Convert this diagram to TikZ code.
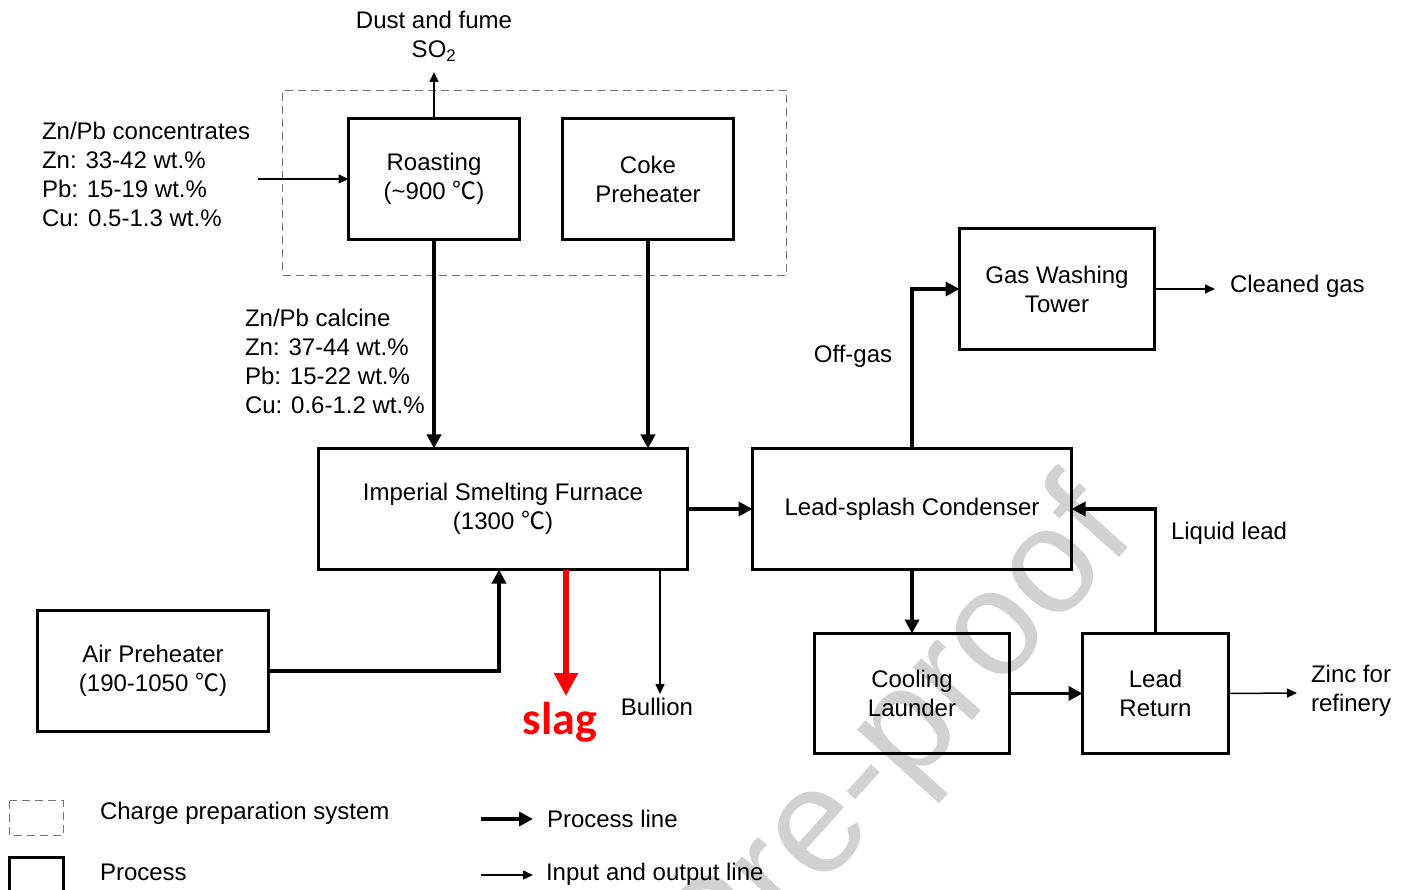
\documentclass[tikz,border=0pt]{standalone}
\usepackage{fontspec}
\setmainfont{Liberation Sans}
\newfontfamily\cjkfont{Noto Sans CJK SC}
\newfontfamily\slagfont{Carlito}
\usetikzlibrary{arrows.meta}
\newcommand{\degC}{{\cjkfont ℃}}
\begin{document}
\begin{tikzpicture}[x=1pt,y=-1pt,
  every node/.style={font=\fontsize{24}{29}\selectfont,inner sep=0pt,outer sep=0pt},
  box/.style={draw,line width=3.3pt,align=center},
  pline/.style={line width=3.8pt,-{Triangle[length=14pt,width=14pt]}},
  iline/.style={line width=1.5pt,-{Triangle[length=10pt,width=9pt]}},
  slagline/.style={line width=5.5pt,red,-{Triangle[length=23pt,width=23pt]}},
  prepbox/.style={draw=black!55,line width=1.5pt,dash pattern=on 8pt off 5pt},
  txt/.style={align=left,anchor=west}
]
\useasboundingbox (0,0) rectangle (1409,890);
% watermark
\begin{scope}
\clip (0,0) rectangle (1409,890);
\node[text=black!18,rotate=48,font=\fontsize{150}{150}\selectfont] (wm) at (722,941) {Journal Pre-proof};
\end{scope}

% charge preparation system
\node[prepbox,minimum width=504pt,minimum height=185pt] (prep) at (534.5,183) {};

% process boxes
\node[box,minimum width=171pt,minimum height=121pt] (roast) at (434,179) {Roasting\\(\textasciitilde900 \degC)};
\node[box,minimum width=171pt,minimum height=121pt] (coke) at (648,179) {Coke\\Preheater};
\node[box,minimum width=369pt,minimum height=121pt] (isf) at (503,509) {Imperial Smelting Furnace\\(1300 \degC)};
\node[box,minimum width=231pt,minimum height=121pt] (air) at (153,671) {Air Preheater\\(190-1050 \degC)};
\node[box,minimum width=319pt,minimum height=121pt] (lsc) at (912,509) {Lead-splash Condenser};
\node[box,minimum width=195pt,minimum height=121pt] (gwt) at (1057,289) {Gas Washing\\Tower};
\node[box,minimum width=195pt,minimum height=120pt] (cl) at (912,693.5) {Cooling\\Launder};
\node[box,minimum width=146pt,minimum height=120pt] (lr) at (1155.5,693.5) {Lead\\Return};

% texts
\node[align=center] (dust) at (434,36) {Dust and fume\\SO\textsubscript{2}};
\node[txt] (conc) at (42,174) {Zn/Pb concentrates\\Zn: 33-42 wt.\%\\Pb: 15-19 wt.\%\\Cu: 0.5-1.3 wt.\%};
\node[txt] (calc) at (245,361) {Zn/Pb calcine\\Zn: 37-44 wt.\%\\Pb: 15-22 wt.\%\\Cu: 0.6-1.2 wt.\%};
\node (offgas) at (853,356) {Off-gas};
\node[txt] (clean) at (1230,286) {Cleaned gas};
\node[txt] (liq) at (1171,533) {Liquid lead};
\node[txt] (zinc) at (1311,691) {Zinc for\\refinery};
\node (bull) at (657,707) {Bullion};
\node[text=red,font=\fontsize{46}{46}\slagfont\bfseries] (slag) at (560,722) {slag};

% free ends
\coordinate (dustend) at (434,72);
\coordinate (concstart) at (258,179);
\coordinate (cleanend) at (1215,289);
\coordinate (zincend) at (1297,693);
\coordinate (slagend) at (566,696);
\coordinate (bullend) at (660,694);

% connectors
\draw[iline] (roast.north) -- (dustend);
\draw[iline] (concstart) -- (concstart -| roast.west);
\draw[pline] (roast.south) -- (roast.south |- isf.north);
\draw[pline] (coke.south) -- (coke.south |- isf.north);
\draw[pline] (air.east) -| (isf.south -| 499,0);
\draw[slagline] (isf.south -| slagend) -- (slagend);
\draw[iline] (isf.south -| bullend) -- (bullend);
\draw[pline] (isf.east) -- (lsc.west);
\draw[pline] (lsc.north) |- (gwt.west);
\draw[iline] (gwt.east) -- (cleanend);
\draw[pline] (lsc.south) -- (cl.north);
\draw[pline] (cl.east) -- (lr.west);
\draw[pline] (lr.north) |- (lsc.east);
\draw[iline] (lr.east) -- (zincend);

% legend
\draw[prepbox] (9.7,800.7) rectangle (63.3,835.3);
\draw[line width=3.3pt] (9.4,895) -- (9.4,857.4) -- (63.6,857.4) -- (63.6,895);
\node[txt] (lg1) at (100,813) {Charge preparation system};
\node[txt] (lg2) at (100,872) {Process};
\coordinate (lp1) at (481,819);
\coordinate (lp2) at (533,819);
\coordinate (li1) at (481,875);
\coordinate (li2) at (533,875);
\draw[pline] (lp1) -- (lp2);
\draw[iline] (li1) -- (li2);
\node[txt] (lg3) at (547,819) {Process line};
\node[txt] (lg4) at (546,874) {Input and output line};
\end{tikzpicture}
\end{document}
